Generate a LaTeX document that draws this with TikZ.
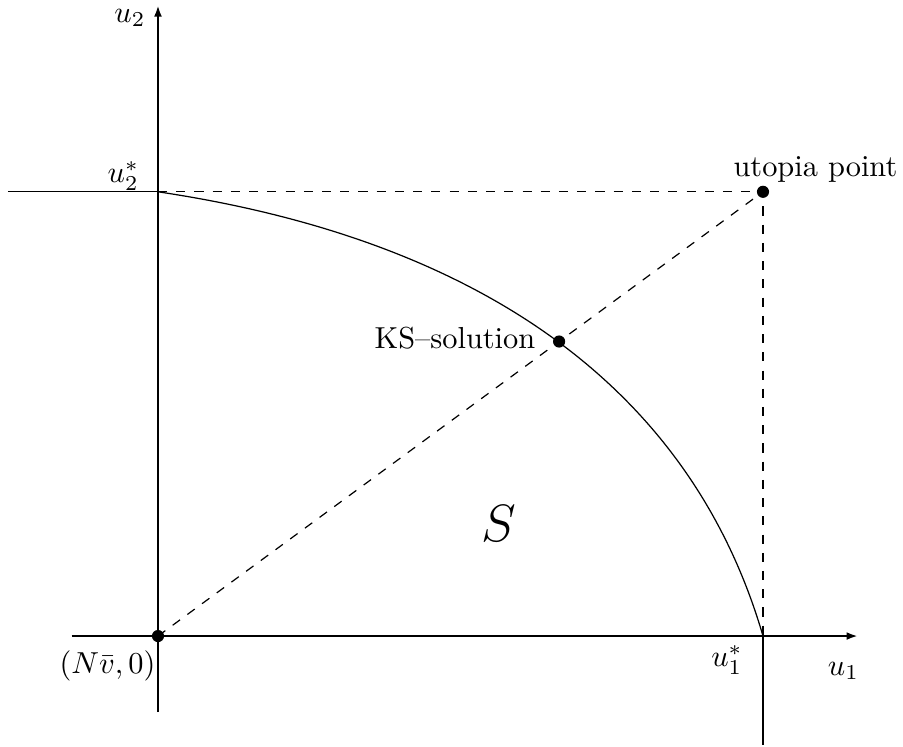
\documentclass[tikz,border=0pt]{standalone}
\usepackage{amsmath, amssymb}
\usepackage{tikz}
\usetikzlibrary{
  positioning,
  arrows.meta,
  calc
}

\begin{document}
\begin{tikzpicture}[>={Latex[length=3.8pt,width=2.6pt]}, thick]
    \useasboundingbox (-1.828,-1.273) rectangle (8.62,7.359);
    \def\ua{7}
    \def\ub{5.14}
    % 关键点
    \coordinate (O) at (0,0);
    \coordinate (U) at (\ua,\ub);
    \coordinate (P1) at (\ua,0);
    \coordinate (P2) at (0,\ub);
    \coordinate (KS) at ($(O)!0.663!(U)$);
    \coordinate (xl) at (-1,0);
    \coordinate (xr) at (8.1,0);
    \coordinate (yb) at (0,-0.88);
    \coordinate (yt) at (0,7.3);
    \coordinate (hl) at (-1.736,\ub);
    \coordinate (vb) at (\ua,-1.26);

    % 坐标轴
    \draw[->, line width=0.9pt] (xl) -- (xr);
    \draw[->, line width=0.9pt] (yb) -- (yt);

    % 边界
    \draw[thin] (hl) -- (P2);
    \draw[thin] (P1) -- (vb);
    \draw[thin] (P2) .. controls (3.62,4.6) and (6.14,2.95) .. (P1);

    % 虚线
    \draw[thin, dashed] (P2) -- (U) -- (P1);
    \draw[thin, dashed] (O) -- (U);

    % 点
    \fill (O) circle (2pt);
    \fill (U) circle (2pt);
    \fill (KS) circle (2pt);

    % 标签
    \node (lu2) at (-0.324,7.15) {$u_2$};
    \node (lu2s) at (-0.40,5.32) {$u_2^*$};
    \node (lu1) at (7.93,-0.405) {$u_1$};
    \node (lu1s) at (6.583,-0.278) {$u_1^*$};
    \node[inner sep=1pt] (lO) at (-0.585,-0.34) {$(N\bar{v},0)$};
    \node (lU) at (7.607,5.40) {utopia point};
    \node (lKS) at (3.436,3.442) {KS--solution};
    \node (lS) at (3.94,1.296) {\LARGE $S$};
\end{tikzpicture}
\end{document}
